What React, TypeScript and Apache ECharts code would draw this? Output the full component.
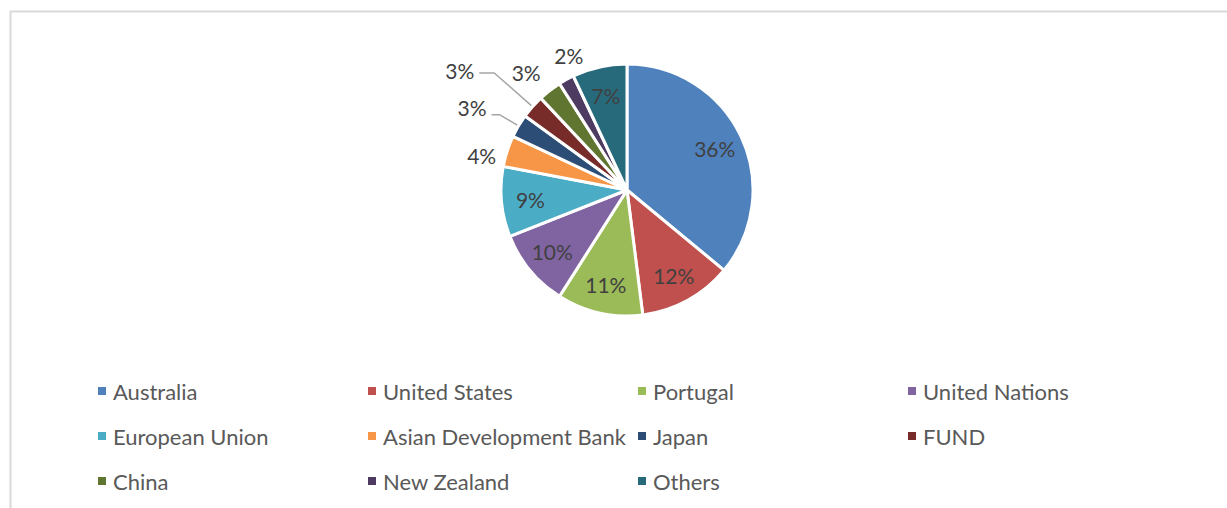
import React, { useEffect, useRef } from "react";
import * as echarts from "echarts";

const categories = [
  "Australia",
  "United States",
  "Portugal",
  "United Nations",
  "European Union",
  "Asian Development Bank",
  "Japan",
  "FUND",
  "China",
  "New Zealand",
  "Others",
];
const shares = [36, 12, 11, 10, 9, 4, 3, 3, 3, 2, 7];
const sliceColors = [
  "#4F81BD",
  "#C0504D",
  "#9BBB59",
  "#8064A2",
  "#4BACC6",
  "#F79646",
  "#2C4D75",
  "#772C2A",
  "#5F7530",
  "#4D3B62",
  "#276A7C",
];

// label placement styling (outside labels only)
const outsideLabel = [false, false, false, false, false, true, true, true, true, true, false];
const leaderShown = [false, false, false, false, false, false, true, true, false, false, false];
const leaderLen = [0, 0, 0, 0, 0, 0, 22, 51, 23, 27, 0];
const leaderLen2 = [0, 0, 0, 0, 0, 9, 8, 15, 0, 0, 0];
const labelNudge: [number, number][] = [
  [0, 0], [0, 0], [0, 0], [0, 0], [0, 0],
  [3, 4], [0, -7], [0, -2], [10, 0], [35, 0], [0, 0],
];

const FONT = "Lato, 'Open Sans', sans-serif";

export default function App() {
  const ref = useRef<HTMLDivElement>(null);
  useEffect(() => {
    if (!ref.current) return;
    const chart = echarts.init(ref.current, undefined, { renderer: "svg" });
    const center = [627, 190];
    const R = 126;

    const mainData = categories.map((name, i) => ({
      name,
      value: shares[i],
      itemStyle: { color: sliceColors[i] },
      label: { show: outsideLabel[i] },
      labelLine: {
        show: leaderShown[i],
        length: leaderLen[i],
        length2: leaderLen2[i],
      },
    }));
    const innerData = categories.map((name, i) => ({
      name,
      value: shares[i],
      label: { show: !outsideLabel[i] },
    }));

    chart.setOption({
      animation: false,
      backgroundColor: "#ffffff",
      graphic: [
        {
          type: "rect",
          shape: { x: 10.5, y: 11.5, width: 1400, height: 700 },
          style: { fill: "none", stroke: "#D9D9D9", lineWidth: 2 },
          silent: true,
        },
      ],
      legend: [0, 1, 2, 3].map((col) => ({
        data: categories.filter((_, i) => i % 4 === col),
        orient: "vertical",
        left: 98 + col * 270,
        top: 379,
        padding: 0,
        itemWidth: 8,
        itemHeight: 8,
        itemGap: 21,
        icon: "rect",
        itemStyle: { borderWidth: 0 },
        textStyle: {
          fontFamily: FONT,
          fontSize: 22,
          color: "#595959",
          lineHeight: 24,
          padding: [0, 0, 0, 2],
        },
      })),
      series: [
        {
          type: "pie",
          center,
          radius: [0, R],
          startAngle: 90,
          clockwise: true,
          avoidLabelOverlap: false,
          data: mainData,
          itemStyle: { borderColor: "#ffffff", borderWidth: 3 },
          label: {
            position: "outside",
            formatter: "{c}%",
            fontFamily: FONT,
            fontSize: 21,
            color: "#404040",
          },
          labelLine: {
            lineStyle: { color: "#A6A6A6", width: 1.5 },
            smooth: false,
          },
          labelLayout: (p: any) => {
            const n = labelNudge[p.dataIndex] || [0, 0];
            return { dx: n[0], dy: n[1] };
          },
          emphasis: { disabled: true },
        },
        {
          type: "pie",
          center,
          radius: [62, R],
          startAngle: 90,
          clockwise: true,
          silent: true,
          data: innerData,
          itemStyle: { color: "rgba(0,0,0,0)", borderWidth: 0 },
          label: {
            position: "inside",
            formatter: "{c}%",
            fontFamily: FONT,
            fontSize: 21,
            color: "#404040",
          },
          labelLine: { show: false },
          emphasis: { disabled: true },
        },
      ],
    });
    return () => chart.dispose();
  }, []);
  return (
    <div
      ref={ref}
      style={{ position: "fixed", left: 0, top: 0, width: 1227, height: 508 }}
    />
  );
}
